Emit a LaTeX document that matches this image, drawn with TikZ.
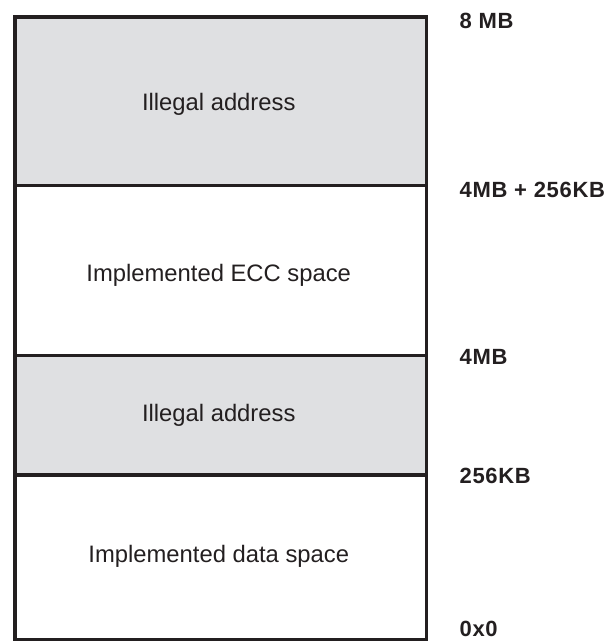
\documentclass[tikz,border=0pt]{standalone}
\usepackage{fontspec}
\setmainfont{Liberation Sans}
\newfontfamily\addrfont[LetterSpace=3]{Liberation Sans}
\definecolor{ink}{RGB}{35,31,32}
\definecolor{illegal}{RGB}{223,224,226}
\begin{document}
\begin{tikzpicture}[x=1pt,y=-1pt,
  region/.style={draw=ink, line width=3.6pt, inner sep=0pt, anchor=north west, minimum width=411.5pt},
  grayregion/.style={region, fill=illegal},
  intext/.style={font=\fontsize{23.8}{28}\selectfont, text=ink, anchor=base, inner sep=0pt},
  addr/.style={font=\addrfont\bfseries\fontsize{22}{26}\selectfont, text=ink, anchor=base west, inner sep=0pt}]
\useasboundingbox (0,0) rectangle (613,641);
% regions
\node[grayregion, minimum height=168.5pt] (ill1) at (13,15) {};
\node[region, minimum height=170pt] (ecc) at (13,183.5) {};
\node[grayregion, minimum height=119.5pt] (ill2) at (13,353.5) {};
\node[region, minimum height=164.5pt] (data) at (13,473) {};
% region texts
\node[intext] (t1) at (218.75,110.7) {Illegal address};
\node[intext] (t2) at (218.75,281.7) {Implemented ECC space};
\node[intext] (t3) at (218.75,421) {Illegal address};
\node[intext] (t4) at (218.75,562.3) {Implemented data space};
% address labels
\node[addr] (a1) at (459.5,28.3) {8 MB};
\node[addr] (a2) at (459.5,197.3) {4MB + 256KB};
\node[addr] (a3) at (459.5,364) {4MB};
\node[addr] (a4) at (459.5,483.3) {256KB};
\node[addr] (a5) at (459.5,636) {0x0};
\end{tikzpicture}
\end{document}
